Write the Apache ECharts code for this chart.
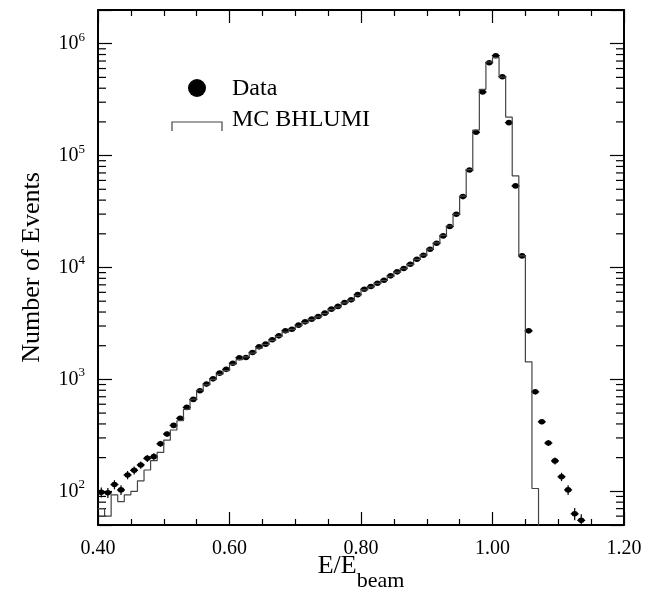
<!DOCTYPE html>
<html>
<head>
<meta charset="utf-8">
<script src="https://cdn.jsdelivr.net/npm/echarts@6/dist/echarts.min.js"></script>
<style>html,body{margin:0;padding:0;background:#fff}#chart{width:651px;height:599px}</style>
</head>
<body>
<div id="chart"></div>
<script>
// bin lower edges, width 0.01
const binLow = [0.40, 0.41, 0.42, 0.43, 0.44, 0.45, 0.46, 0.47, 0.48, 0.49,
  0.50, 0.51, 0.52, 0.53, 0.54, 0.55, 0.56, 0.57, 0.58, 0.59,
  0.60, 0.61, 0.62, 0.63, 0.64, 0.65, 0.66, 0.67, 0.68, 0.69,
  0.70, 0.71, 0.72, 0.73, 0.74, 0.75, 0.76, 0.77, 0.78, 0.79,
  0.80, 0.81, 0.82, 0.83, 0.84, 0.85, 0.86, 0.87, 0.88, 0.89,
  0.90, 0.91, 0.92, 0.93, 0.94, 0.95, 0.96, 0.97, 0.98, 0.99,
  1.00, 1.01, 1.02, 1.03, 1.04, 1.05, 1.06, 1.07, 1.08, 1.09,
  1.10, 1.11, 1.12, 1.13];

const dataCounts = [98, 97, 115, 103, 140, 154, 172, 197, 204, 266,
  325, 388, 449, 562, 663, 791, 908, 1012, 1137, 1230,
  1395, 1560, 1570, 1740, 1955, 2066, 2258, 2450, 2716, 2810,
  3054, 3270, 3455, 3652, 3910, 4245, 4490, 4870, 5140, 5720,
  6400, 6760, 7240, 7700, 8420, 9140, 9790, 10700, 11850, 12880,
  14560, 16480, 19150, 23230, 29900, 43000, 74300, 161500, 370000, 676000,
  781000, 507000, 197000, 53600, 12700, 2717, 774, 418, 270, 187,
  135, 103, 63, 55];

// MC BHLUMI histogram, bins 0.40 .. 1.06
const mcCounts = [70, 60, 93, 81, 93, 100, 124, 155, 188, 223,
  287, 353, 427, 540, 665, 800, 895, 1000, 1110, 1200,
  1360, 1500, 1590, 1720, 1900, 2050, 2230, 2420, 2650, 2800,
  3000, 3220, 3420, 3620, 3880, 4200, 4450, 4820, 5100, 5650,
  6300, 6700, 7200, 7650, 8350, 9100, 9750, 10600, 11800, 12900,
  14600, 16600, 19400, 23500, 29900, 43500, 75000, 169000, 391000, 686000,
  750000, 504000, 221000, 66000, 12700, 1436, 106];

const legendNames = ['Data', 'MC BHLUMI'];
const decades = [10, 100, 1000, 10000, 100000, 1000000];

const serif = 'Liberation Serif';
const chart = echarts.init(document.getElementById('chart'));

// log minor ticks 2..9 per decade
const minorVals = [];
decades.forEach(d => { for (let m = 2; m <= 9; m++) minorVals.push(m * d); });

const histData = mcCounts.map((v, i) => [binLow[i], v]).concat([[binLow[mcCounts.length], 1]]);
const pointData = dataCounts.map((v, i) => [binLow[i] + 0.005, v]);

function yLabel(v) {
  const lg = Math.log10(v), e = Math.round(lg);
  if (Math.abs(lg - e) > 1e-6) return '';
  return '10{s|' + e + '}';
}

const xBase = {
  type: 'value', min: 0.4, max: 1.2, interval: 0.2,
  axisLine: { lineStyle: { color: '#000', width: 2 } },
  axisTick: { inside: true, length: 13, lineStyle: { color: '#000', width: 1.2 } },
  minorTick: { show: true, splitNumber: 4, length: 6, lineStyle: { color: '#000', width: 1.2 } },
  splitLine: { show: false }
};
const yBase = {
  type: 'log', logBase: 10, min: 50, max: 2000000,
  axisLine: { show: true, lineStyle: { color: '#000', width: 2 } },
  axisTick: { show: true, inside: true, length: 14, lineStyle: { color: '#000', width: 1.2 } },
  splitLine: { show: false }
};

chart.setOption({
  animation: false,
  backgroundColor: '#fff',
  grid: { left: 98, top: 10, right: 27, bottom: 74, containLabel: false, outerBoundsMode: 'none' },
  xAxis: [
    Object.assign({}, xBase, {
      position: 'bottom',
      axisLabel: { color: '#000', fontFamily: serif, fontSize: 20, margin: 14,
        formatter: v => v.toFixed(2) },
      name: '{m|E/E}{sub|beam}', nameLocation: 'middle', nameGap: 28, nameMoveOverlap: false,
      nameTextStyle: { color: '#000', fontFamily: serif, fontSize: 26,
        rich: {
          m: { fontFamily: serif, fontSize: 26, lineHeight: 26, verticalAlign: 'top', color: '#000' },
          sub: { fontFamily: serif, fontSize: 22, lineHeight: 56, color: '#000' }
        } }
    }),
    Object.assign({}, xBase, { position: 'top', axisLabel: { show: false } })
  ],
  yAxis: [
    Object.assign({}, yBase, {
      position: 'left',
      axisLabel: { color: '#000', fontFamily: serif, fontSize: 20, lineHeight: 26, margin: 13,
        formatter: yLabel,
        rich: { s: { fontFamily: serif, fontSize: 13, lineHeight: 13, verticalAlign: 'top', color: '#000' } } },
      name: 'Number of Events', nameLocation: 'middle', nameRotate: 90, nameGap: 53, nameMoveOverlap: false,
      nameTextStyle: { color: '#000', fontFamily: serif, fontSize: 26 }
    }),
    Object.assign({}, yBase, { position: 'right', axisLabel: { show: false } })
  ],
  graphic: [
    { type: 'circle', shape: { cx: 197, cy: 88, r: 9 }, style: { fill: '#000' } },
    { type: 'polyline', shape: { points: [[172, 131], [172, 122], [222, 122], [222, 131]] },
      style: { stroke: '#444', lineWidth: 1.2, fill: 'none' } },
    { type: 'text', x: 232, y: 89, style: { text: legendNames[0], fontFamily: serif, fontSize: 24, fill: '#000', verticalAlign: 'middle' } },
    { type: 'text', x: 232, y: 120, style: { text: legendNames[1], fontFamily: serif, fontSize: 24, fill: '#000', verticalAlign: 'middle' } }
  ],
  series: [
    {
      name: legendNames[1], type: 'line', step: 'end', data: histData,
      showSymbol: false, symbol: 'none', clip: true,
      lineStyle: { color: '#444', width: 1.2 }
    },
    {
      name: legendNames[0], type: 'custom', data: pointData, clip: true,
      encode: { x: 0, y: 1 },
      renderItem: (params, api) => {
        const x = api.value(0), n = api.value(1), e = Math.sqrt(n);
        const c = api.coord([x, n]);
        const hi = api.coord([x, n + e]);
        const lo = api.coord([x, n - e]);
        return { type: 'group', children: [
          { type: 'line', shape: { x1: c[0], y1: hi[1], x2: c[0], y2: lo[1] }, style: { stroke: '#000', lineWidth: 1.2 } },
          { type: 'line', shape: { x1: c[0] - 4, y1: c[1], x2: c[0] + 4, y2: c[1] }, style: { stroke: '#000', lineWidth: 1.2 } },
          { type: 'ellipse', shape: { cx: c[0], cy: c[1], rx: 3.4, ry: 2.8 }, style: { fill: '#000' } }
        ] };
      }
    },
    {
      type: 'custom', data: minorVals.map(v => [0.4, v]), silent: true,
      renderItem: (params, api) => {
        const cs = params.coordSys;
        const y = api.coord([0.4, api.value(1)])[1];
        if (y < cs.y || y > cs.y + cs.height) return null;
        const st = { stroke: '#000', lineWidth: 1.2 };
        return { type: 'group', children: [
          { type: 'line', shape: { x1: cs.x, y1: y, x2: cs.x + 8, y2: y }, style: st },
          { type: 'line', shape: { x1: cs.x + cs.width - 8, y1: y, x2: cs.x + cs.width, y2: y }, style: st }
        ] };
      }
    }
  ]
});
</script>
</body>
</html>
